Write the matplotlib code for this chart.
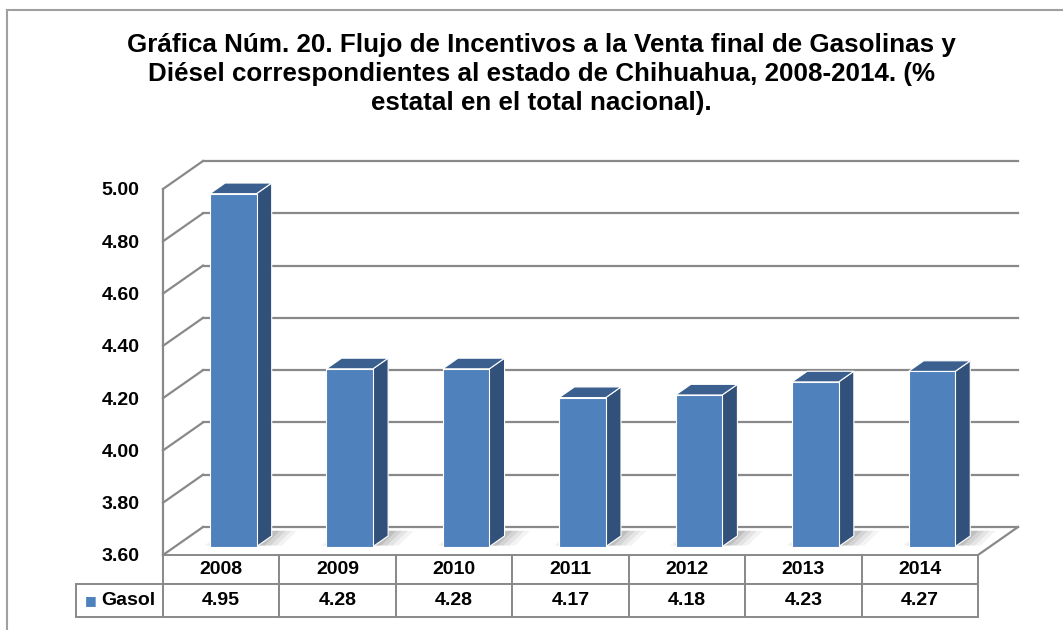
import matplotlib
matplotlib.use("Agg")
import matplotlib.pyplot as plt
from matplotlib.patches import Polygon, Rectangle
import numpy as np

# Data: share of Chihuahua in national total (%)
years = ["2008", "2009", "2010", "2011", "2012", "2013", "2014"]
gasol = [4.95, 4.28, 4.28, 4.17, 4.18, 4.23, 4.27]
series_name = "Gasol"
y_ticks = [3.60, 3.80, 4.00, 4.20, 4.40, 4.60, 4.80, 5.00]

title = ("Gráfica Núm. 20. Flujo de Incentivos a la Venta final de Gasolinas y\n"
         "Diésel correspondientes al estado de Chihuahua, 2008-2014. (%\n"
         "estatal en el total nacional).")

plt.rcParams["font.family"] = ["Liberation Sans", "DejaVu Sans"]

W, H = 1063, 630
fig = plt.figure(figsize=(W / 100, H / 100), dpi=100)

# axes = front plane of the 3D box
left_px, right_px, top_px, bot_px = 163, 978, 189, 555
ax_w = right_px - left_px
ax_h = bot_px - top_px
ax = fig.add_axes([left_px / W, 1 - bot_px / H, ax_w / W, ax_h / H])
ymin, ymax = 3.6, 5.0
n = len(years)
ax.set_xlim(-0.5, n - 0.5)
ax.set_ylim(ymin, ymax)

# depth of the box in data units (40 px right, 28 px up)
DX = 40 / (ax_w / n)
DY = 28 * (ymax - ymin) / ax_h

grid_c = "#898989"
# left wall and back wall gridlines
ax.plot([-0.5, -0.5], [ymin, ymax], color=grid_c, lw=1.6, clip_on=False, zorder=1)
for v in y_ticks:
    ax.plot([-0.5, -0.5 + DX], [v, v + DY], color=grid_c, lw=1.6, clip_on=False, zorder=1)
    ax.plot([-0.5 + DX, n - 0.5 + DX], [v + DY, v + DY], color=grid_c, lw=1.6,
            clip_on=False, zorder=1)
# floor right edge
ax.plot([n - 0.5, n - 0.5 + DX], [ymin, ymin + DY], color=grid_c, lw=1.6,
        clip_on=False, zorder=1)

# bars
f1, f2 = 0.30, 0.68
bw = 0.40
front_c, side_c, top_c = "#4F81BD", "#31507A", "#3B6090"
for i, v in enumerate(gasol):
    x0 = i - bw / 2 + f1 * DX
    x1 = x0 + bw
    yb = ymin + f1 * DY
    yt = v + f1 * DY
    ddx = (f2 - f1) * DX
    ddy = (f2 - f1) * DY
    # soft shadow on the floor
    for k, a in enumerate([0.06, 0.08, 0.10, 0.14]):
        s = 0.22 - 0.05 * k
        sh = Polygon([(x0 - 0.05 + 0.03 * k, yb + 0.004), (x1 + s, yb + 0.004),
                      (x1 + ddx + s, yb + ddy + 0.02), (x0 + ddx, yb + ddy + 0.02)],
                     closed=True, facecolor="#404040", edgecolor="none", alpha=a,
                     zorder=2, clip_on=False)
        ax.add_patch(sh)
    side = Polygon([(x1, yb), (x1 + ddx, yb + ddy), (x1 + ddx, yt + ddy), (x1, yt)],
                   closed=True, facecolor=side_c, edgecolor="white", lw=0.8,
                   zorder=3, clip_on=False)
    top = Polygon([(x0, yt), (x1, yt), (x1 + ddx, yt + ddy), (x0 + ddx, yt + ddy)],
                  closed=True, facecolor=top_c, edgecolor="white", lw=0.8,
                  zorder=3, clip_on=False)
    front = Polygon([(x0, yb), (x1, yb), (x1, yt), (x0, yt)],
                    closed=True, facecolor=front_c, edgecolor="white", lw=0.8,
                    zorder=4, clip_on=False)
    ax.add_patch(side)
    ax.add_patch(top)
    ax.add_patch(front)

ax.set_yticks(y_ticks)
ax.set_yticklabels([f"{v:.2f}" for v in y_ticks], fontsize=14, fontweight="bold")
ax.tick_params(axis="y", length=0, pad=17)
ax.set_xticks([])
for sp in ax.spines.values():
    sp.set_visible(False)
ax.patch.set_alpha(0)

# data table under the chart (sizes in axes units so bbox scale is 1)
lab_w = 87 / ax_w
hdr_h = 29 / ax_h
row_h = 33 / ax_h
tbl_h = hdr_h + row_h
tbl = ax.table(cellText=[[f"{v:.2f}" for v in gasol]], colLabels=years,
               cellLoc="center", bbox=[0, -tbl_h, 1, tbl_h])
tbl.auto_set_font_size(False)
for (r, c), cell in tbl.get_celld().items():
    cell.set_edgecolor(grid_c)
    cell.set_linewidth(1.4)
    cell.get_text().set_fontsize(14)
    cell.get_text().set_fontweight("bold")
    cell.set_width(1.0 / n)
    cell.set_height(hdr_h if r == 0 else row_h)

# series label cell with legend key
ax.add_patch(Rectangle((-lab_w, -tbl_h), lab_w, row_h, transform=ax.transAxes,
                       facecolor="white", edgecolor=grid_c, lw=1.4, clip_on=False))
ax.text(-lab_w + 0.011, -tbl_h + row_h / 2, "■", color=front_c,
        fontsize=9, ha="left", va="center", transform=ax.transAxes,
        family=["DejaVu Sans"])
ax.text(-0.009, -tbl_h + row_h / 2, series_name, fontsize=14, fontweight="bold",
        ha="right", va="center", transform=ax.transAxes)

# outer chart frame
fig.add_artist(plt.Line2D([7 / W, 7 / W], [0, 1 - 10 / H], color="#A0A0A0", lw=1.5))
fig.add_artist(plt.Line2D([7 / W, 1], [1 - 10 / H, 1 - 10 / H], color="#A0A0A0", lw=1.5))

fig.text(541 / W, 1 - 74 / H, title, ha="center", va="center", fontsize=18.7,
         fontweight="bold", linespacing=1.25)

fig.savefig("out.png", dpi=100)
